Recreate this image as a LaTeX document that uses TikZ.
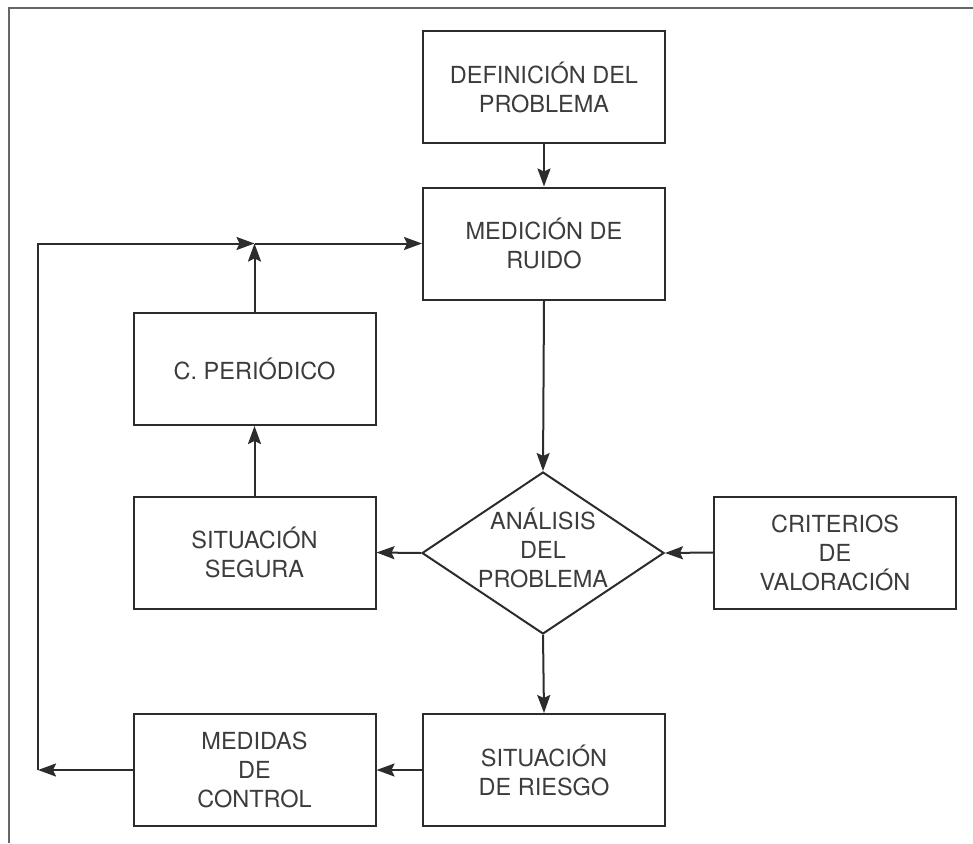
\documentclass[tikz,border=0pt]{standalone}
\usepackage{fontspec}
\setmainfont{TeX Gyre Heros}
\usetikzlibrary{shapes.geometric,arrows.meta}
\definecolor{ink}{HTML}{2C2C2C}
\definecolor{txtc}{HTML}{3C3C3C}
\definecolor{framec}{HTML}{666666}
\begin{document}
\begin{tikzpicture}[x=1pt,y=-1pt,
  box/.style={draw=ink, line width=2pt, minimum width=242pt, minimum height=112pt,
    inner sep=0pt, align=center, text=txtc, font=\fontsize{23.5}{29}\selectfont},
  dia/.style={draw=ink, line width=2pt, shape=diamond, minimum width=242pt,
    minimum height=162pt, inner sep=0pt},
  lbl/.style={align=center, text=txtc, inner sep=0pt, font=\fontsize{23.5}{29}\selectfont},
  arr/.style={draw=ink, line width=2pt, -{Stealth[length=18pt,width=13pt,inset=3pt]}},
  framel/.style={draw=framec, line width=2.4pt}]
\useasboundingbox (0,0) rectangle (973,843);
\draw[framel] (9,843) -- (9,8) -- (973,8);

\node[box] (def) at (544,87) {DEFINICIÓN DEL\\PROBLEMA};
\node[box] (med) at (544,243.5) {MEDICIÓN DE\\RUIDO};
\node[box] (per) at (254.5,369) {C. PERIÓDICO};
\node[box] (seg) at (254.5,552.5) {SITUACIÓN\\SEGURA};
\node[dia] (ana) at (543,553) {};
\node[lbl] (anat) at (543,548) {ANÁLISIS\\DEL\\PROBLEMA};
\node[box] (cri) at (835,552.5) {CRITERIOS\\DE\\VALORACIÓN};
\node[box] (rie) at (544,770) {SITUACIÓN\\DE RIESGO};
\node[box] (mdc) at (254.5,770) {MEDIDAS\\DE\\CONTROL};

\coordinate (j) at (254.5,243.5);
\coordinate (c1) at (38,770);
\coordinate (c2) at (38,243.5);

\draw[arr] (def.south) -- (med.north);
\draw[arr] (med.south) -- (ana.north);
\draw[arr] (ana.west) -- (seg.east);
\draw[arr] (cri.west) -- (ana.east);
\draw[arr] (ana.south) -- (rie.north);
\draw[arr] (rie.west) -- (mdc.east);
\draw[arr] (mdc.west) -- (c1);
\draw[arr] (c1) -- (c2) -- (j);
\draw[arr] (seg.north) -- (per.south);
\draw[arr] (per.north) -- (j);
\draw[arr] (j) -- (med.west);
\end{tikzpicture}
\end{document}
